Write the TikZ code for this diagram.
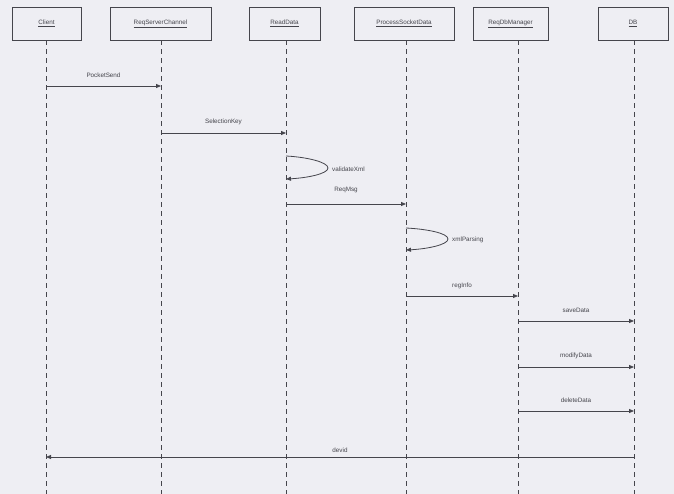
\documentclass[tikz,border=0pt]{standalone}
\usepackage{fontspec}
\setmainfont{Liberation Sans}
\usetikzlibrary{arrows.meta}
\definecolor{paper}{HTML}{EEEEF3}
\definecolor{ink}{HTML}{45454C}
\tikzset{
  obj/.style={draw=ink, line width=0.7pt, minimum height=33pt, inner sep=0pt, font=\fontsize{6.3}{7}\selectfont, text=ink},
  life/.style={draw=ink, line width=0.7pt, dash pattern=on 5pt off 4pt},
  msg/.style={draw=ink, line width=0.8pt, -{Triangle[length=5pt,width=4pt]}},
  lbl/.style={font=\fontsize{6.3}{7}\selectfont, text=ink, inner sep=1pt}
}
\newcommand{\ul}[1]{\underline{#1}}
\begin{document}
\begin{tikzpicture}[x=1pt,y=-1pt]
\fill[paper] (0,0) rectangle (674,494);
\useasboundingbox (0,0) rectangle (674,494);
% objects
\node[obj, minimum width=69pt] (client) at (46.5,23.5) {\ul{Client}};
\node[obj, minimum width=101pt] (chan) at (160.5,23.5) {\ul{ReqServerChannel}};
\node[obj, minimum width=71pt] (read) at (284.5,23.5) {\ul{ReadData}};
\node[obj, minimum width=100pt] (proc) at (404,23.5) {\ul{ProcessSocketData}};
\node[obj, minimum width=75pt] (dbm) at (510.5,23.5) {\ul{ReqDbManager}};
\node[obj, minimum width=70pt] (db) at (633,23.5) {\ul{DB}};
% lifeline ends
\coordinate (clientE) at (46,494);
\coordinate (chanE) at (161,494);
\coordinate (readE) at (286,494);
\coordinate (procE) at (406,494);
\coordinate (dbmE) at (518,494);
\coordinate (dbE) at (634,494);
\draw[life] (client.south -| clientE) -- (clientE);
\draw[life] (chan.south -| chanE) -- (chanE);
\draw[life] (read.south -| readE) -- (readE);
\draw[life] (proc.south -| procE) -- (procE);
\draw[life] (dbm.south -| dbmE) -- (dbmE);
\draw[life] (db.south -| dbE) -- (dbE);
% message points
\coordinate (m1a) at (46,86);  \coordinate (m1b) at (161,86);
\coordinate (m2a) at (161,133); \coordinate (m2b) at (286,133);
\coordinate (s1a) at (286,156); \coordinate (s1b) at (286,179);
\coordinate (m3a) at (286,204); \coordinate (m3b) at (406,204);
\coordinate (s2a) at (406,228); \coordinate (s2b) at (406,250);
\coordinate (m4a) at (406,296); \coordinate (m4b) at (518,296);
\coordinate (m5a) at (518,321); \coordinate (m5b) at (634,321);
\coordinate (m6a) at (518,367); \coordinate (m6b) at (634,367);
\coordinate (m7a) at (518,411); \coordinate (m7b) at (634,411);
\coordinate (m8a) at (634,457); \coordinate (m8b) at (46,457);
% messages
\draw[msg] (m1a) -- node[lbl, above=7pt] {PocketSend} (m1b);
\draw[msg] (m2a) -- node[lbl, above=7pt] {SelectionKey} (m2b);
\draw[msg] (s1a) .. controls (306,157) and (328,162) .. (328,168)
  .. controls (328,174) and (306,178) .. (s1b);
\node[lbl, anchor=west] (v) at (331,169) {validateXml};
\draw[msg] (m3a) -- node[lbl, above=10pt] {ReqMsg} (m3b);
\draw[msg] (s2a) .. controls (426,229) and (448,233) .. (448,239)
  .. controls (448,245) and (426,249) .. (s2b);
\node[lbl, anchor=west] (x) at (451,240) {xmlParsing};
\draw[msg] (m4a) -- node[lbl, above=6pt] {regInfo} (m4b);
\draw[msg] (m5a) -- node[lbl, above=7pt] {saveData} (m5b);
\draw[msg] (m6a) -- node[lbl, above=7pt] {modifyData} (m6b);
\draw[msg] (m7a) -- node[lbl, above=7pt] {deleteData} (m7b);
\draw[msg] (m8a) -- node[lbl, above=3pt] {devid} (m8b);
\end{tikzpicture}
\end{document}
